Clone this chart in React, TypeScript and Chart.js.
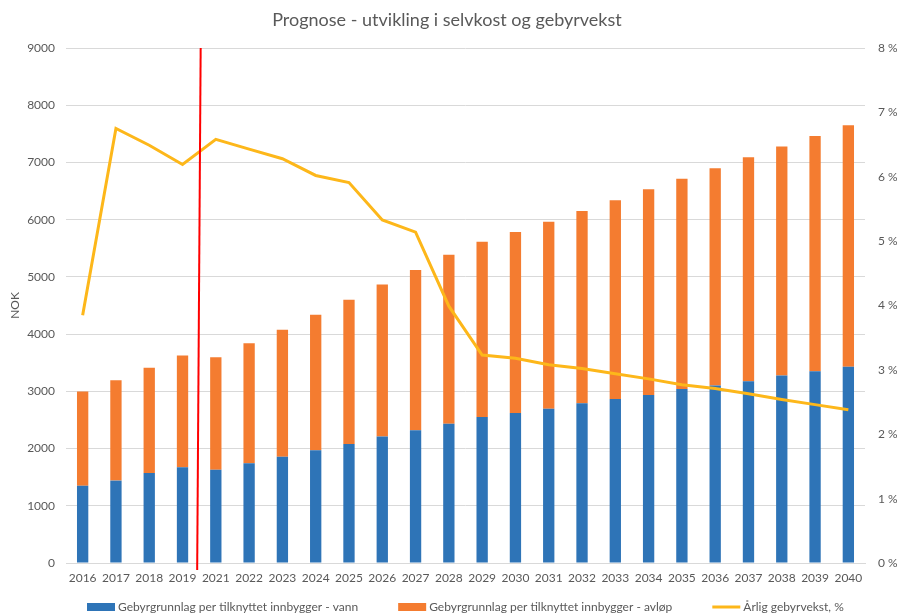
import React, { useEffect, useRef } from "react";
import { Chart, registerables } from "chart.js";

Chart.register(...registerables);

const categories = ["2016","2017","2018","2019","2021","2022","2023","2024","2025","2026","2027","2028","2029","2030","2031","2032","2033","2034","2035","2036","2037","2038","2039","2040"];
const vann = [1350,1440,1575,1675,1630,1745,1855,1970,2080,2210,2320,2435,2550,2620,2695,2790,2865,2935,3040,3100,3175,3275,3350,3430];
const totals = [2995,3195,3410,3625,3595,3840,4075,4340,4600,4865,5120,5385,5615,5785,5965,6150,6340,6530,6715,6900,7090,7278,7460,7648];
const avlop = totals.map((t, i) => t - vann[i]);
const vekst = [3.85,6.75,6.49,6.19,6.58,6.43,6.28,6.02,5.91,5.33,5.14,3.99,3.23,3.18,3.08,3.02,2.94,2.86,2.77,2.71,2.63,2.54,2.46,2.38];

const title = "Prognose - utvikling i selvkost og gebyrvekst";
const seriesNames = [
  "Gebyrgrunnlag per tilknyttet innbygger - vann",
  "Gebyrgrunnlag per tilknyttet innbygger - avløp",
  "Årlig gebyrvekst, %",
];
const dividerAt = 3.5;

const BLUE = "#2E74B7";
const ORANGE = "#F47C30";
const GOLD = "#FDB71A";
const TEXT = "#595959";
const GRID = "#D9D9D9";
const FONT = "Lato, 'Liberation Sans', sans-serif";

const extrasPlugin = {
  id: "extras",
  afterDatasetsDraw(chart: any) {
    const { ctx, chartArea, scales } = chart;
    const x = scales.x.getPixelForValue(dividerAt);
    ctx.save();
    ctx.strokeStyle = "#FF0000";
    ctx.lineWidth = 2;
    ctx.beginPath();
    ctx.moveTo(x + 1.5, chartArea.top);
    ctx.lineTo(x - 2, chartArea.bottom + 7);
    ctx.stroke();
    ctx.restore();
  },
  afterDraw(chart: any) {
    const { ctx } = chart;
    ctx.save();
    ctx.fillStyle = TEXT;
    ctx.font = `18px ${FONT}`;
    ctx.textAlign = "center";
    ctx.textBaseline = "middle";
    ctx.fillText(title, 447, 20);

    // legend
    ctx.font = `12px ${FONT}`;
    ctx.textAlign = "left";
    const y = 607;
    const boxW = 28;
    const gap = 3;
    const itemGap = 40;
    const colors = [BLUE, ORANGE, GOLD];
    let cx = 87;
    seriesNames.forEach((n, i) => {
      ctx.fillStyle = colors[i];
      if (i < 2) {
        ctx.fillRect(cx, y - 4, boxW, 8);
      } else {
        ctx.fillRect(cx, y - 1.5, boxW, 3);
      }
      ctx.fillStyle = TEXT;
      ctx.fillText(n, cx + boxW + gap, y);
      cx += boxW + gap + ctx.measureText(n).width + itemGap;
    });
    ctx.restore();
  },
};

export default function App() {
  const ref = useRef<HTMLCanvasElement>(null);
  useEffect(() => {
    document.body.style.margin = "0";
    const chart = new Chart(ref.current!, {
      type: "bar",
      data: {
        labels: categories,
        datasets: [
          {
            type: "line",
            label: seriesNames[2],
            data: vekst,
            yAxisID: "y1",
            borderColor: GOLD,
            backgroundColor: GOLD,
            borderWidth: 3,
            pointRadius: 0,
            tension: 0,
            order: 0,
          } as any,
          {
            label: seriesNames[0],
            data: vann,
            backgroundColor: BLUE,
            yAxisID: "y",
            barPercentage: 0.34,
            categoryPercentage: 1,
            order: 1,
          },
          {
            label: seriesNames[1],
            data: avlop,
            backgroundColor: ORANGE,
            yAxisID: "y",
            barPercentage: 0.34,
            categoryPercentage: 1,
            order: 1,
          },
        ],
      },
      options: {
        animation: false,
        responsive: false,
        maintainAspectRatio: false,
        layout: { padding: { top: 48, left: 0, right: 0, bottom: 0 } },
        plugins: {
          legend: { display: false },
          title: { display: false },
          tooltip: { enabled: false },
        },
        scales: {
          x: {
            stacked: true,
            grid: { display: false, drawTicks: false },
            border: { display: true, color: GRID, width: 1 },
            ticks: { color: TEXT, font: { family: FONT, size: 12 }, padding: 8, maxRotation: 0, autoSkip: false },
            afterFit(scale: any) { scale.height = 52; },
          },
          y: {
            stacked: true,
            position: "left",
            min: 0,
            max: 9000,
            ticks: {
              stepSize: 1000,
              color: TEXT,
              font: { family: FONT, size: 12 },
              padding: 11,
              callback: (v: any) => String(v),
            },
            grid: { color: GRID, drawTicks: false },
            border: { display: false },
            title: { display: true, text: "NOK", color: TEXT, font: { family: FONT, size: 12 }, padding: { top: 8, bottom: 0 } },
            afterFit(scale: any) { scale.width = 66; },
          },
          y1: {
            position: "right",
            min: 0,
            max: 8,
            ticks: {
              stepSize: 1,
              color: TEXT,
              font: { family: FONT, size: 12 },
              padding: 13,
              callback: (v: any) => `${v} %`,
            },
            grid: { display: false, drawTicks: false },
            border: { display: false },
            afterFit(scale: any) { scale.width = 32; },
          },
        },
      },
      plugins: [extrasPlugin],
    });
    return () => chart.destroy();
  }, []);
  return (
    <div style={{ width: 897, height: 615, background: "#fff" }}>
      <canvas ref={ref} width={897} height={615} style={{ display: "block" }} />
    </div>
  );
}
